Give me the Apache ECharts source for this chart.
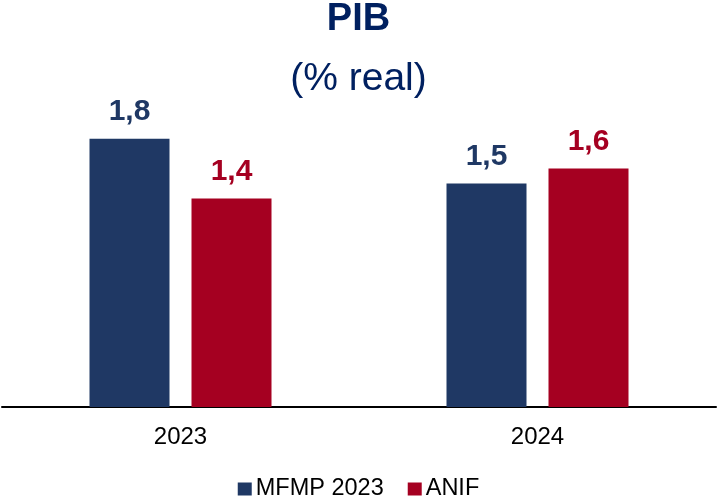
<!DOCTYPE html>
<html>
<head>
<meta charset="utf-8">
<script src="https://cdn.jsdelivr.net/npm/echarts@6/dist/echarts.min.js"></script>
<style>
  html, body { margin: 0; padding: 0; background: #fff; }
  #chart { width: 717px; height: 504px; }
</style>
</head>
<body>
<div id="chart"></div>
<script>
// datos
const years = ['2023', '2024']
const mfmp = [1.8, 1.5]
const anif = [1.4, 1.6]
const seriesNames = ['MFMP 2023', 'ANIF']
const colors = ['#1F3864', '#A50021']

const font = 'Liberation Sans, Arial, sans-serif'

function barSeries (name, data, color) {
  return {
    name: name,
    type: 'bar',
    data: data,
    barWidth: 80,
    barGap: '27.5%',
    itemStyle: { color: color },
    label: {
      show: true,
      position: 'top',
      distance: 12,
      fontFamily: font,
      fontSize: 30,
      fontWeight: 'bold',
      color: color,
      formatter: function (p) {
        return p.value.toFixed(1).replace('.', ',')
      }
    }
  }
}

const chart = echarts.init(document.getElementById('chart'), null, { renderer: 'canvas' })
chart.setOption({
  animation: false,
  color: colors,
  title: [
    {
      text: 'PIB',
      left: 'center',
      top: -4,
      textStyle: { fontFamily: font, fontSize: 38, fontWeight: 'bold', color: '#002060' }
    },
    {
      text: '(% real)',
      left: 'center',
      top: 55,
      textStyle: { fontFamily: font, fontSize: 39, fontWeight: 'normal', color: '#002060' }
    }
  ],
  legend: {
    bottom: -2,
    left: 'center',
    itemWidth: 14,
    itemHeight: 13,
    itemGap: 24,
    icon: 'rect',
    textStyle: { fontFamily: font, fontSize: 23.5, color: '#000', padding: [0, 0, 0, -1] },
    data: seriesNames
  },
  grid: { left: 2, right: 1, top: 109, bottom: 97 },
  xAxis: {
    type: 'category',
    data: years,
    axisLine: { lineStyle: { color: '#000', width: 2 } },
    axisTick: { show: false },
    axisLabel: { fontFamily: font, fontSize: 24, color: '#000', margin: 18 }
  },
  yAxis: {
    type: 'value',
    min: 0,
    max: 2,
    show: false,
    splitLine: { show: false }
  },
  series: [
    barSeries(seriesNames[0], mfmp, colors[0]),
    barSeries(seriesNames[1], anif, colors[1])
  ]
})
</script>
</body>
</html>
